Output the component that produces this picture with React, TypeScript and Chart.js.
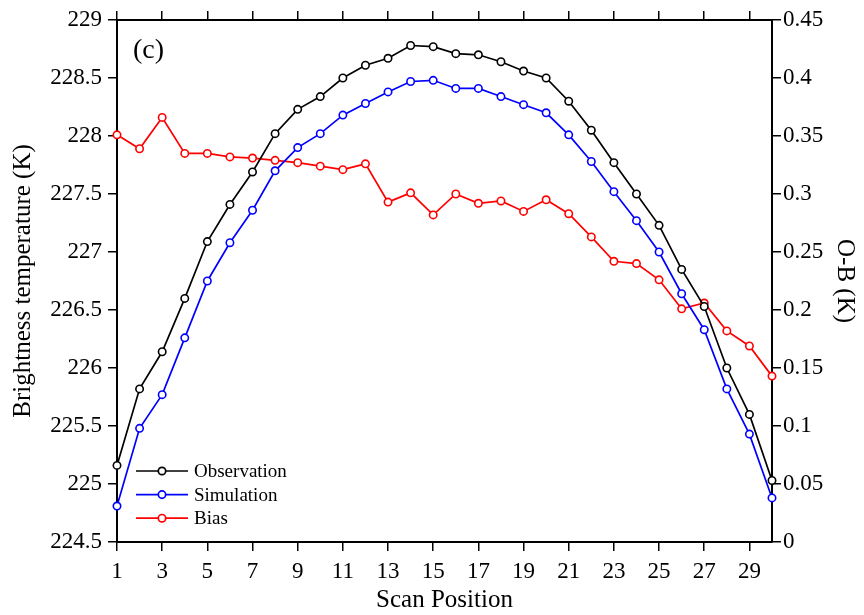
import React, { useEffect, useRef } from 'react';
import { Chart, registerables } from 'chart.js';

Chart.register(...registerables);

const scanPositions = [1, 2, 3, 4, 5, 6, 7, 8, 9, 10, 11, 12, 13, 14, 15, 16, 17, 18, 19, 20, 21, 22, 23, 24, 25, 26, 27, 28, 29, 30];
const observation = [225.16, 225.82, 226.14, 226.60, 227.09, 227.41, 227.69, 228.02, 228.23, 228.34, 228.50, 228.61, 228.67, 228.78, 228.77, 228.71, 228.70, 228.64, 228.56, 228.50, 228.30, 228.05, 227.77, 227.50, 227.23, 226.85, 226.53, 226.00, 225.60, 225.03];
const simulation = [224.81, 225.48, 225.77, 226.26, 226.75, 227.08, 227.36, 227.70, 227.90, 228.02, 228.18, 228.28, 228.38, 228.47, 228.48, 228.41, 228.41, 228.34, 228.27, 228.20, 228.01, 227.78, 227.52, 227.27, 227.00, 226.64, 226.33, 225.82, 225.43, 224.88];
const bias = [0.351, 0.339, 0.366, 0.335, 0.335, 0.332, 0.331, 0.329, 0.327, 0.324, 0.321, 0.326, 0.293, 0.301, 0.282, 0.300, 0.292, 0.294, 0.285, 0.295, 0.283, 0.263, 0.242, 0.240, 0.226, 0.201, 0.206, 0.182, 0.169, 0.143];
const xTickValues = [1, 3, 5, 7, 9, 11, 13, 15, 17, 19, 21, 23, 25, 27, 29];
const seriesLabels = ['Observation', 'Simulation', 'Bias'];
const seriesColors = ['#000000', '#0000ff', '#ff0000'];
const panelLabel = '(c)';
const xTitle = 'Scan Position';
const yLeftTitle = 'Brightness temperature (K)';
const yRightTitle = 'O-B (K)';

const FONT = '"Liberation Serif", "Times New Roman", serif';

const legendPlugin = {
  id: 'customLegend',
  afterDraw(chart: any) {
    const ctx = chart.ctx;
    const area = chart.chartArea;
    ctx.save();
    chart.data.datasets.forEach((ds: any, i: number) => {
      const y = 471 + i * 23.6;
      const x0 = area.left + 19;
      ctx.strokeStyle = ds.borderColor;
      ctx.lineWidth = 1.7;
      ctx.beginPath();
      ctx.moveTo(x0, y);
      ctx.lineTo(x0 + 52, y);
      ctx.stroke();
      ctx.beginPath();
      ctx.arc(x0 + 26, y, 3.7, 0, Math.PI * 2);
      ctx.fillStyle = '#fff';
      ctx.fill();
      ctx.stroke();
      ctx.fillStyle = '#000';
      ctx.font = `19px ${FONT}`;
      ctx.textBaseline = 'middle';
      ctx.textAlign = 'left';
      ctx.fillText(ds.label, x0 + 58, y + 1);
    });
    ctx.fillStyle = '#000';
    ctx.font = `28px ${FONT}`;
    ctx.textBaseline = 'middle';
    ctx.textAlign = 'left';
    ctx.fillText(panelLabel, area.left + 16, 51);
    ctx.restore();
  },
};

export default function App() {
  const ref = useRef<HTMLCanvasElement>(null);
  useEffect(() => {
    document.body.style.margin = '0';
    const mk = (vals: number[]) => scanPositions.map((x, i) => ({ x, y: vals[i] }));
    const setTicks = (axis: any) => {
      axis.ticks = xTickValues.map((v) => ({ value: v }));
    };
    const grid = {
      display: true,
      drawOnChartArea: false,
      drawTicks: true,
      tickLength: 9,
      color: '#000',
      lineWidth: 1.5,
    };
    const border = { display: true, color: '#000', width: 2 };
    const chart = new Chart(ref.current as HTMLCanvasElement, {
      type: 'line',
      data: {
        datasets: [
          { label: seriesLabels[0], data: mk(observation), yAxisID: 'y' },
          { label: seriesLabels[1], data: mk(simulation), yAxisID: 'y' },
          { label: seriesLabels[2], data: mk(bias), yAxisID: 'y1' },
        ].map((d, i) => ({
          ...d,
          xAxisID: 'x',
          borderColor: seriesColors[i],
          backgroundColor: '#fff',
          pointBackgroundColor: '#fff',
          pointBorderColor: seriesColors[i],
          pointRadius: 3.7,
          pointBorderWidth: 1.6,
          borderWidth: 1.7,
          tension: 0,
          clip: false as any,
        })),
      },
      options: {
        animation: false,
        responsive: false,
        layout: { padding: 0 },
        plugins: { legend: { display: false }, tooltip: { enabled: false } },
        scales: {
          x: {
            type: 'linear',
            position: 'bottom',
            min: 1,
            max: 30,
            afterBuildTicks: setTicks,
            afterFit: (axis: any) => { axis.height = 73; },
            grid,
            border,
            ticks: { color: '#000', font: { family: FONT, size: 23 }, padding: 7, maxRotation: 0, autoSkip: false, callback: (v: any) => String(v) },
            title: { display: true, text: xTitle, color: '#000', font: { family: FONT, size: 25 }, padding: { top: 0, bottom: 0 } },
          },
          x2: {
            type: 'linear',
            position: 'top',
            min: 1,
            max: 30,
            afterBuildTicks: setTicks,
            afterFit: (axis: any) => { axis.height = 20; },
            grid,
            border,
            ticks: { display: false },
          },
          y: {
            type: 'linear',
            position: 'left',
            min: 224.5,
            max: 229,
            afterFit: (axis: any) => { axis.width = 117; },
            grid,
            border,
            ticks: { stepSize: 0.5, color: '#000', font: { family: FONT, size: 23 }, padding: 6, callback: (v: any) => String(Number(v)) },
            title: { display: true, text: yLeftTitle, color: '#000', font: { family: FONT, size: 25 }, padding: { top: 8, bottom: 0 } },
          },
          y1: {
            type: 'linear',
            position: 'right',
            min: 0,
            max: 0.45,
            afterFit: (axis: any) => { axis.width = 92; },
            grid,
            border,
            ticks: { stepSize: 0.05, color: '#000', font: { family: FONT, size: 23 }, padding: 2, callback: (v: any) => String(Number(Number(v).toFixed(2))) },
            title: { display: true, text: yRightTitle, color: '#000', font: { family: FONT, size: 25 }, padding: { top: 4, bottom: 0 } },
          },
        },
      },
      plugins: [legendPlugin],
    } as any);
    return () => chart.destroy();
  }, []);
  return <canvas ref={ref} width={864} height={615} style={{ display: 'block' }} />;
}
